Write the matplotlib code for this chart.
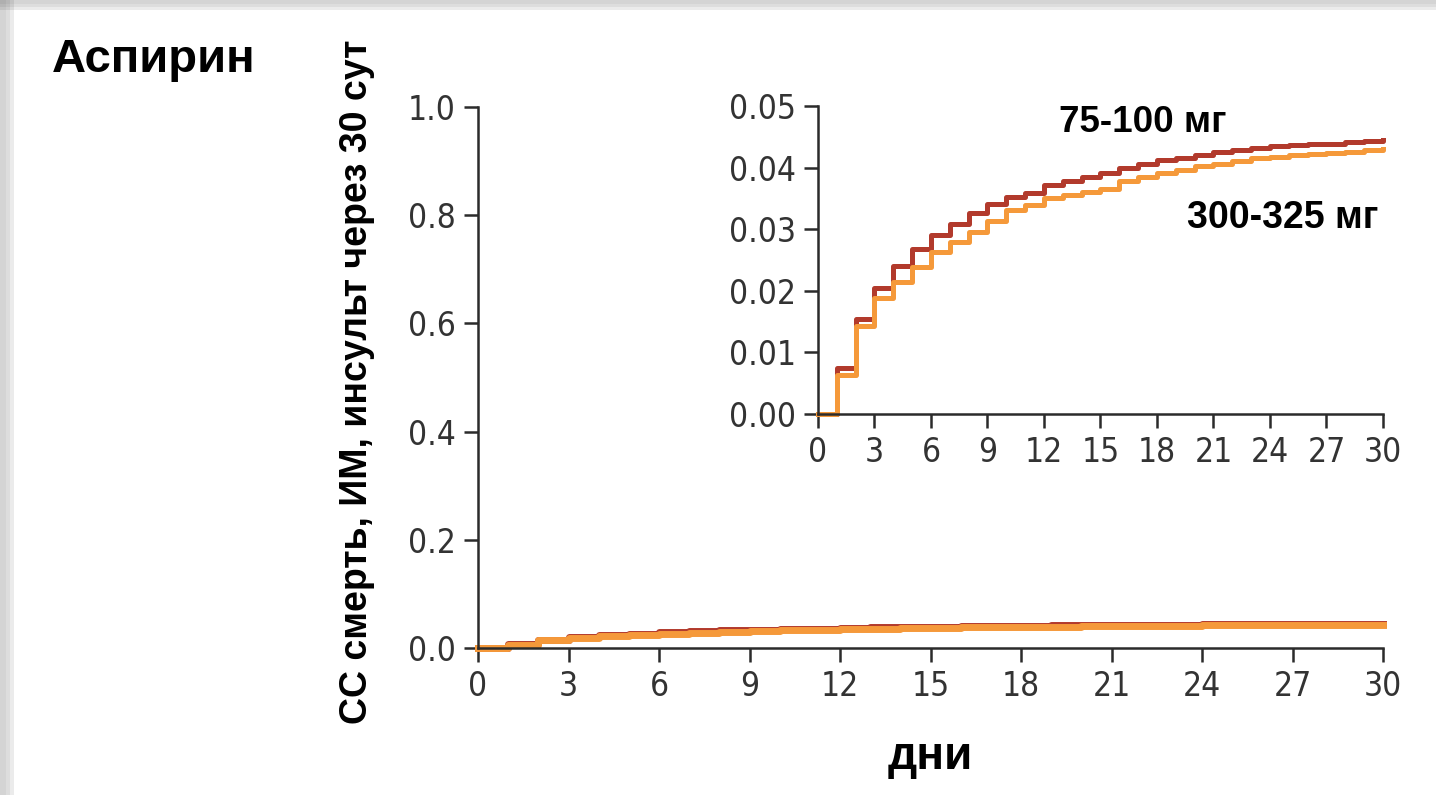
import matplotlib
matplotlib.use("Agg")
import matplotlib.pyplot as plt
from matplotlib.patches import Rectangle

# cumulative event rate, value from each day onward (days 0..30)
days = list(range(0, 31))
low_dose = [0.0, 0.0074, 0.0154, 0.0204, 0.0241, 0.0268, 0.0291, 0.0308, 0.0326, 0.0341,
            0.0353, 0.0359, 0.0372, 0.0379, 0.0385, 0.0391, 0.0400, 0.0406, 0.0412, 0.0416,
            0.0421, 0.0425, 0.0429, 0.0432, 0.0435, 0.0436, 0.0438, 0.0439, 0.0442, 0.0443,
            0.0444]
high_dose = [0.0, 0.0064, 0.0143, 0.0188, 0.0214, 0.0238, 0.0263, 0.0280, 0.0296, 0.0314,
             0.0331, 0.0339, 0.0350, 0.0356, 0.0361, 0.0366, 0.0379, 0.0384, 0.0391, 0.0396,
             0.0402, 0.0406, 0.0410, 0.0415, 0.0418, 0.0420, 0.0422, 0.0424, 0.0426, 0.0429,
             0.0430]
x_ticks = list(range(0, 31, 3))
main_yticks = [0.0, 0.2, 0.4, 0.6, 0.8, 1.0]
inset_yticks = [0.00, 0.01, 0.02, 0.03, 0.04, 0.05]

red = "#b23a2c"
orange = "#f5993a"
axis_col = "#2b2b2b"
bold_font = ["Liberation Sans", "DejaVu Sans"]

fig = plt.figure(figsize=(14.36, 7.95), dpi=100)

# light shadow frame on the top and left edge
for i, a in enumerate([0.08, 0.06, 0.04]):
    fig.patches.append(Rectangle((0, 1 - (10 - 3 * i) / 795), 1, (10 - 3 * i) / 795,
                                 transform=fig.transFigure, color="#000000", alpha=a, lw=0))
    fig.patches.append(Rectangle((0, 0), (14 - 4 * i) / 1436, 1,
                                 transform=fig.transFigure, color="#000000", alpha=a, lw=0))


def style_axes(ax, yticks, fmt):
    for s in ["top", "right"]:
        ax.spines[s].set_visible(False)
    for s in ["left", "bottom"]:
        ax.spines[s].set_color(axis_col)
        ax.spines[s].set_linewidth(1.8)
    ax.set_xlim(0, 30)
    ax.set_ylim(yticks[0], yticks[-1])
    ax.set_xticks(x_ticks)
    ax.set_yticks(yticks)
    ax.set_yticklabels([fmt.format(v) for v in yticks])
    ax.tick_params(direction="out", length=10, width=1.8, color=axis_col,
                   labelcolor="#333333", labelsize=24, pad=6)
    for lab in ax.get_xticklabels() + ax.get_yticklabels():
        lab.set_family("DejaVu Sans")
        lab.set_stretch("condensed")
        lab.set_weight("light")
    ax.set_facecolor("none")


ax = fig.add_axes([478 / 1436, 1 - 648 / 795, 905 / 1436, 541 / 795])
style_axes(ax, main_yticks, "{:.1f}")
ax.step(days, low_dose, where="post", color=red, lw=5, clip_on=False)
ax.step(days, high_dose, where="post", color=orange, lw=5, clip_on=False)

ins = fig.add_axes([818 / 1436, 1 - 414 / 795, 565 / 1436, 308 / 795])
style_axes(ins, inset_yticks, "{:.2f}")
ins.step(days, low_dose, where="post", color=red, lw=3.6, clip_on=False)
ins.step(days, high_dose, where="post", color=orange, lw=3.6, clip_on=False)

fig.text(52 / 1436, 1 - 60 / 795, "Аспирин", fontsize=34, fontweight="bold",
         family=bold_font, va="center", ha="left")
fig.text(357 / 1436, 1 - 382 / 795, "СС смерть, ИМ, инсульт через 30 сут", fontsize=27,
         fontweight="bold", family=bold_font, rotation=90, va="center", ha="center")
fig.text(930 / 1436, 1 - 757 / 795, "дни", fontsize=33, fontweight="bold",
         family=bold_font, va="center", ha="center")
fig.text(1143 / 1436, 1 - 122 / 795, "75-100 мг", fontsize=26.5, fontweight="bold",
         family=bold_font, va="center", ha="center")
fig.text(1283 / 1436, 1 - 218 / 795, "300-325 мг", fontsize=27, fontweight="bold",
         family=bold_font, va="center", ha="center")

fig.savefig("out.png", dpi=100)
